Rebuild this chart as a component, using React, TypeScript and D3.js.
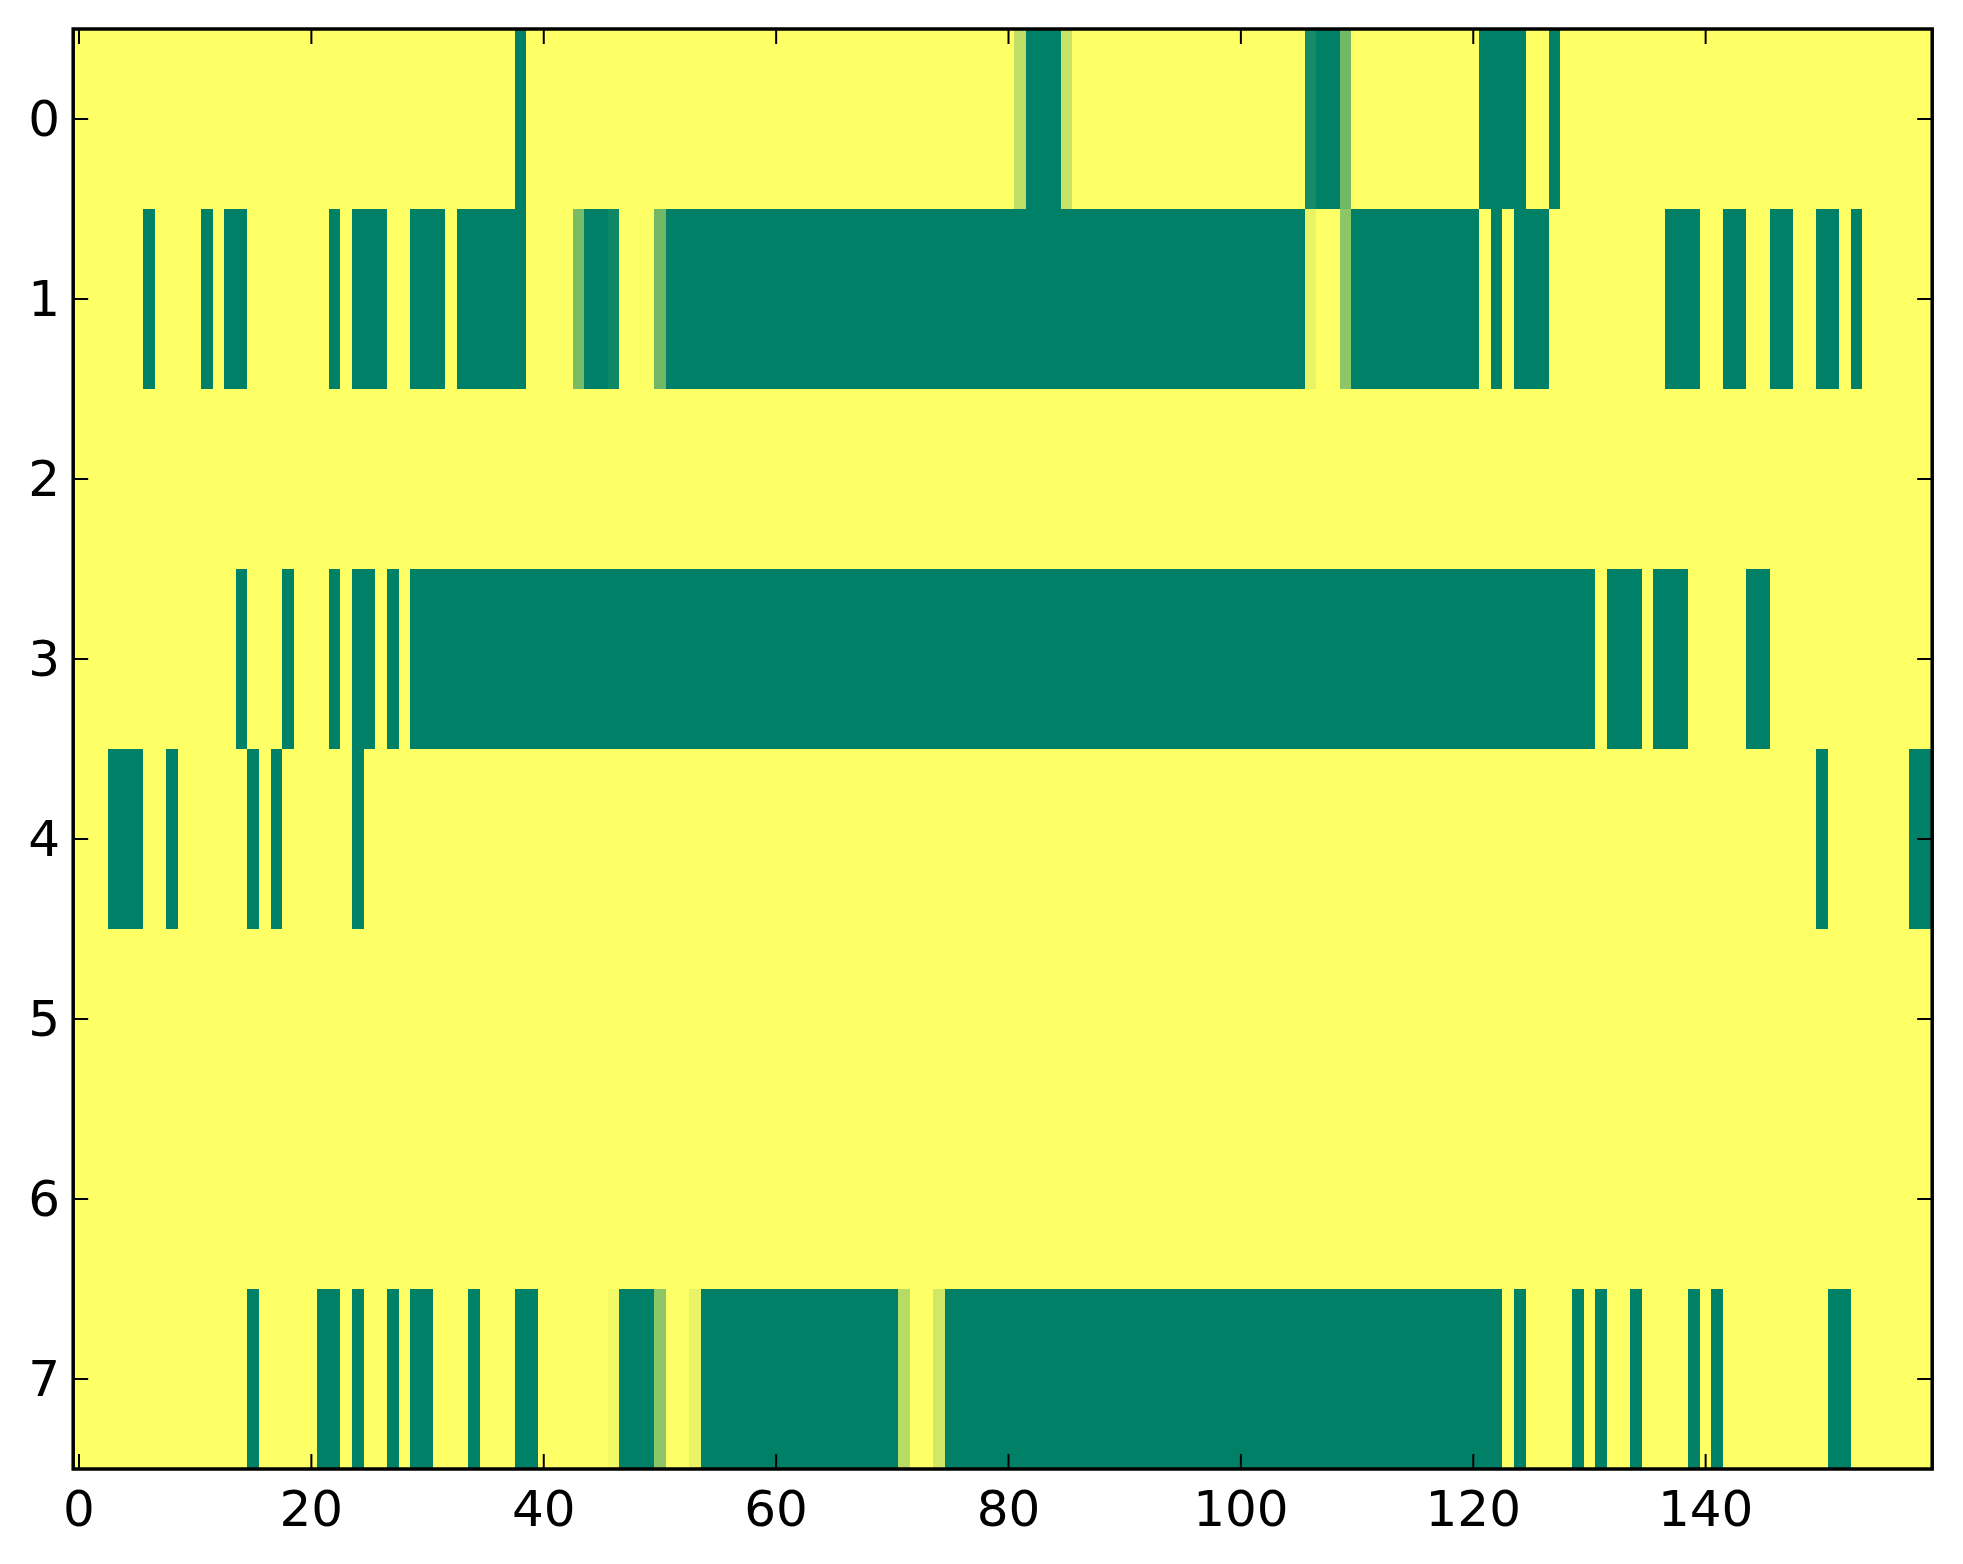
import React from "react";
import * as d3 from "d3";

// Heatmap values (0 = green, 1 = yellow in the "summer" colormap), 160 columns per row
const row0 = [
  1,1,1,1,1,1,1,1,1,1, 1,1,1,1,1,1,1,1,1,1, 1,1,1,1,1,1,1,1,1,1, 1,1,1,1,1,1,1,1,0,1,
  1,1,1,1,1,1,1,1,1,1, 1,1,1,1,1,1,1,1,1,1, 1,1,1,1,1,1,1,1,1,1, 1,1,1,1,1,1,1,1,1,1,
  1,0.75,0,0,0,0.78,1,1,1,1, 1,1,1,1,1,1,1,1,1,1, 1,1,1,1,1,1,0.09,0,0,0.44, 1,1,1,1,1,1,1,1,1,1,
  1,0,0,0,0,1,1,0,1,1, 1,1,1,1,1,1,1,1,1,1, 1,1,1,1,1,1,1,1,1,1, 1,1,1,1,1,1,1,1,1,1,
];
const row1 = [
  1,1,1,1,1,1,0,1,1,1, 1,0,1,0,0,1,1,1,1,1, 1,1,0,1,0,0,0,1,1,0, 0,0,1,0,0,0,0,0,0,1,
  1,1,1,0.47,0,0,0.055,1,1,1, 0.44,0,0,0,0,0,0,0,0,0, 0,0,0,0,0,0,0,0,0,0, 0,0,0,0,0,0,0,0,0,0,
  0,0,0,0,0,0,0,0,0,0, 0,0,0,0,0,0,0,0,0,0, 0,0,0,0,0,0,0.91,1,1,0.55, 0,0,0,0,0,0,0,0,0,0,
  0,1,0,1,0,0,0,1,1,1, 1,1,1,1,1,1,1,0,0,0, 1,1,0,0,1,1,0,0,1,1, 0,0,1,0,1,1,1,1,1,1,
];
const row2 = [
  1,1,1,1,1,1,1,1,1,1, 1,1,1,1,1,1,1,1,1,1, 1,1,1,1,1,1,1,1,1,1, 1,1,1,1,1,1,1,1,1,1,
  1,1,1,1,1,1,1,1,1,1, 1,1,1,1,1,1,1,1,1,1, 1,1,1,1,1,1,1,1,1,1, 1,1,1,1,1,1,1,1,1,1,
  1,1,1,1,1,1,1,1,1,1, 1,1,1,1,1,1,1,1,1,1, 1,1,1,1,1,1,1,1,1,1, 1,1,1,1,1,1,1,1,1,1,
  1,1,1,1,1,1,1,1,1,1, 1,1,1,1,1,1,1,1,1,1, 1,1,1,1,1,1,1,1,1,1, 1,1,1,1,1,1,1,1,1,1,
];
const row3 = [
  1,1,1,1,1,1,1,1,1,1, 1,1,1,1,0,1,1,1,0,1, 1,1,0,1,0,0,1,0,1,0, 0,0,0,0,0,0,0,0,0,0,
  0,0,0,0,0,0,0,0,0,0, 0,0,0,0,0,0,0,0,0,0, 0,0,0,0,0,0,0,0,0,0, 0,0,0,0,0,0,0,0,0,0,
  0,0,0,0,0,0,0,0,0,0, 0,0,0,0,0,0,0,0,0,0, 0,0,0,0,0,0,0,0,0,0, 0,0,0,0,0,0,0,0,0,0,
  0,0,0,0,0,0,0,0,0,0, 0,1,0,0,0,1,0,0,0,1, 1,1,1,1,0,0,1,1,1,1, 1,1,1,1,1,1,1,1,1,1,
];
const row4 = [
  1,1,1,0,0,0,1,1,0,1, 1,1,1,1,1,0,1,0,1,1, 1,1,1,1,0,1,1,1,1,1, 1,1,1,1,1,1,1,1,1,1,
  1,1,1,1,1,1,1,1,1,1, 1,1,1,1,1,1,1,1,1,1, 1,1,1,1,1,1,1,1,1,1, 1,1,1,1,1,1,1,1,1,1,
  1,1,1,1,1,1,1,1,1,1, 1,1,1,1,1,1,1,1,1,1, 1,1,1,1,1,1,1,1,1,1, 1,1,1,1,1,1,1,1,1,1,
  1,1,1,1,1,1,1,1,1,1, 1,1,1,1,1,1,1,1,1,1, 1,1,1,1,1,1,1,1,1,1, 0,1,1,1,1,1,1,1,0,0,
];
const row5 = row2.slice();
const row6 = row2.slice();
const row7 = [
  1,1,1,1,1,1,1,1,1,1, 1,1,1,1,1,0,1,1,1,1, 1,0,0,1,0,1,1,0,1,0, 0,1,1,1,0,1,1,1,0,0,
  1,1,1,1,1,1,0.95,0,0,0, 0.55,1,1,0.91,0,0,0,0,0,0, 0,0,0,0,0,0,0,0,0,0, 0,0.72,1,1,0.82,0,0,0,0,0,
  0,0,0,0,0,0,0,0,0,0, 0,0,0,0,0,0,0,0,0,0, 0,0,0,0,0,0,0,0,0,0, 0,0,0,0,0,0,0,0,0,0,
  0,0,0,1,0,1,1,1,1,0, 1,0,1,1,0,1,1,1,1,0, 1,0,1,1,1,1,1,1,1,1, 1,0,0,1,1,1,1,1,1,1,
];
const rows = [row0, row1, row2, row3, row4, row5, row6, row7];

const xTicks = [0, 20, 40, 60, 80, 100, 120, 140];
const yTicks = [0, 1, 2, 3, 4, 5, 6, 7];

const W = 1963;
const H = 1564;
const left = 73.2;
const right = 1932.2;
const top = 29;
const bottom = 1469;
const nCols = 160;

export default function App() {
  const x = d3.scaleLinear().domain([-0.5, nCols - 0.5]).range([left, right]);
  const y = d3.scaleLinear().domain([-0.5, rows.length - 0.5]).range([top, bottom]);
  const color = d3.scaleLinear<string>().domain([0, 1]).range(["#008066", "#ffff66"]).interpolate(d3.interpolateRgb);

  const font = "'DejaVu Sans', sans-serif";
  const tickLen = 15;

  return (
    <div style={{ position: "absolute", left: 0, top: 0 }}>
      <svg width={W} height={H} style={{ display: "block", background: "#ffffff" }}>
        <g shapeRendering="crispEdges">
          {rows.map((row, r) =>
            row.map((v, c) => (
              <rect
                key={`${r}-${c}`}
                x={x(c - 0.5)}
                y={y(r - 0.5)}
                width={x(c + 0.5) - x(c - 0.5) + 0.6}
                height={y(r + 0.5) - y(r - 0.5) + 0.6}
                fill={color(v)}
              />
            ))
          )}
        </g>
        {/* ticks, inward on all sides */}
        <g stroke="#000" strokeWidth={2}>
          {xTicks.map((t) => (
            <g key={`xt${t}`}>
              <line x1={x(t)} x2={x(t)} y1={bottom} y2={bottom - tickLen} />
              <line x1={x(t)} x2={x(t)} y1={top} y2={top + tickLen} />
            </g>
          ))}
          {yTicks.map((t) => (
            <g key={`yt${t}`}>
              <line x1={left} x2={left + tickLen} y1={y(t)} y2={y(t)} />
              <line x1={right} x2={right - tickLen} y1={y(t)} y2={y(t)} />
            </g>
          ))}
        </g>
        <rect x={left} y={top} width={right - left} height={bottom - top} fill="none" stroke="#000" strokeWidth={3.5} />
        <g fontFamily={font} fontSize={50} fill="#000">
          {xTicks.map((t) => (
            <text key={`xl${t}`} x={x(t)} y={bottom + 57} textAnchor="middle">
              {t}
            </text>
          ))}
          {yTicks.map((t) => (
            <text key={`yl${t}`} x={60} y={y(t) + 17} textAnchor="end">
              {t}
            </text>
          ))}
        </g>
      </svg>
    </div>
  );
}
